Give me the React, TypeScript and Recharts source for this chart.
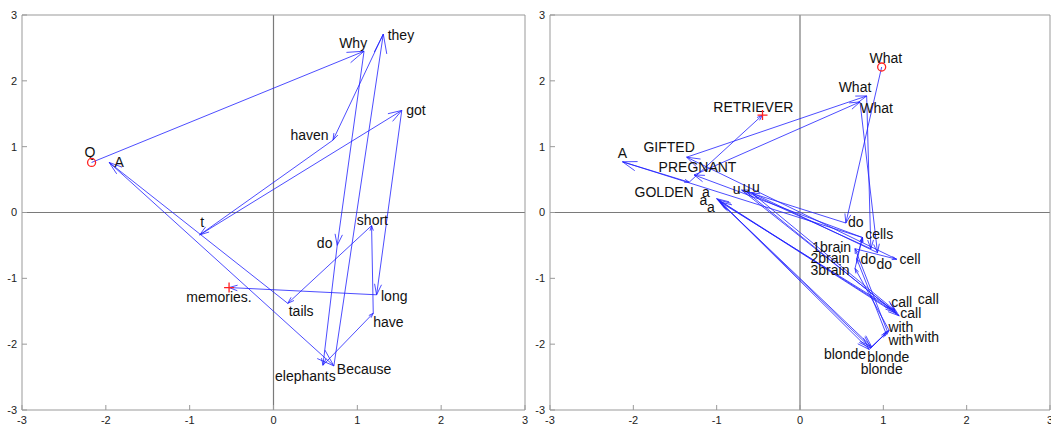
import React from 'react'
import { ComposedChart, XAxis, YAxis, Scatter, ReferenceLine } from 'recharts'

const TICKS = [-3, -2, -1, 0, 1, 2, 3]

// left panel: "Q Why do elephants have short tails A Because they haven t got long memories."
const LEFT_WORDS = ['Q', 'Why', 'do', 'elephants', 'have', 'short', 'tails', 'A', 'Because', 'they', 'haven', 't', 'got', 'long', 'memories.']
const LEFT_X = [-2.17, 1.08, 0.76, 0.59, 1.19, 1.17, 0.17, -1.96, 0.72, 1.31, 0.71, -0.88, 1.53, 1.23, -0.53]
const LEFT_Y = [0.76, 2.45, -0.5, -2.32, -1.53, -0.2, -1.38, 0.76, -2.33, 2.71, 1.1, -0.34, 1.55, -1.25, -1.14]
const LEFT_LABEL_X = [-2.19, 0.95, 0.61, 0.38, 1.37, 1.18, 0.33, -1.84, 1.08, 1.52, 0.43, -0.85, 1.7, 1.44, -0.65]
const LEFT_LABEL_Y = [0.92, 2.57, -0.47, -2.49, -1.67, -0.11, -1.49, 0.77, -2.37, 2.7, 1.17, -0.14, 1.56, -1.27, -1.29]

// right panel: three "What do u call a blonde with N brain cell(s)" questions and their answers
const RIGHT_WORDS = [
  'What', 'do', 'u', 'call', 'a', 'blonde', 'with', '1brain', 'cell', 'GIFTED',
  'What', 'do', 'u', 'call', 'a', 'blonde', 'with', '2brain', 'cells', 'PREGNANT',
  'What', 'do', 'u', 'call', 'a', 'blonde', 'with', '3brain', 'cells', 'A', 'GOLDEN', 'RETRIEVER',
]
const RIGHT_X = [
  0.98, 0.55, -0.7, 1.16, -1.0, 0.85, 1.05, 0.66, 1.16, -1.36,
  0.8, 0.85, -0.64, 1.19, -0.98, 0.83, 1.03, 0.68, 0.75, -1.27,
  0.72, 0.93, -0.58, 1.14, -0.96, 0.86, 1.07, 0.66, 0.75, -2.13, -1.33, -0.45,
]
const RIGHT_Y = [
  2.21, -0.16, 0.34, -1.53, 0.21, -2.06, -1.81, -0.55, -0.71, 0.84,
  1.77, -0.55, 0.31, -1.57, 0.19, -2.08, -1.83, -0.7, -0.38, 0.57,
  1.68, -0.61, 0.3, -1.49, 0.16, -2.04, -1.79, -0.85, -0.38, 0.77, 0.46, 1.48,
]
const RIGHT_LABEL_X = [
  1.03, 0.67, -0.76, 1.22, -1.13, 0.54, 1.21, 0.38, 1.32, -1.57,
  0.66, 0.82, -0.64, 1.54, -1.16, 1.06, 1.52, 0.36, 0.95, -1.23,
  0.92, 1.01, -0.53, 1.33, -1.07, 0.98, 1.21, 0.36, 0.95, -2.13, -1.63, -0.56,
]
const RIGHT_LABEL_Y = [
  2.35, -0.14, 0.36, -1.36, 0.31, -2.15, -1.74, -0.52, -0.7, 1.0,
  1.9, -0.7, 0.39, -1.32, 0.19, -2.2, -1.89, -0.69, -0.32, 0.69,
  1.59, -0.78, 0.39, -1.52, 0.09, -2.37, -1.94, -0.87, -0.32, 0.9, 0.31, 1.6,
]

const FONT = '"Liberation Sans", Arial, Helvetica, sans-serif'

function Arrow(props: any) {
  const { x1, y1, x2, y2 } = props
  const dx = x2 - x1
  const dy = y2 - y1
  const len = Math.hypot(dx, dy)
  const head = Math.max(5, len * 0.06)
  const a = Math.atan2(dy, dx)
  const w = 0.32
  const ax = x2 - head * Math.cos(a - w)
  const ay = y2 - head * Math.sin(a - w)
  const bx = x2 - head * Math.cos(a + w)
  const by = y2 - head * Math.sin(a + w)
  return (
    <path
      d={`M${x1},${y1}L${x2},${y2}M${ax},${ay}L${x2},${y2}L${bx},${by}`}
      stroke="#2020ff"
      strokeWidth={0.8}
      fill="none"
    />
  )
}

function WordLabel(props: any) {
  const { cx, cy, payload } = props
  return (
    <text x={cx} y={cy} textAnchor="middle" dominantBaseline="central" fontSize={14} fill="#111" fontFamily={FONT}>
      {payload.word}
    </text>
  )
}

function StartMark(props: any) {
  return <circle cx={props.cx} cy={props.cy} r={4} stroke="#ff2020" strokeWidth={1.3} fill="none" />
}

function EndMark(props: any) {
  const { cx, cy } = props
  return <path d={`M${cx - 5},${cy}H${cx + 5}M${cx},${cy - 5}V${cy + 5}`} stroke="#ff2020" strokeWidth={1.3} />
}

function Panel({ words, xs, ys, lx, ly, width, right }: {
  words: string[]; xs: number[]; ys: number[]; lx: number[]; ly: number[]; width: number; right: number
}) {
  // words that repeat at the same spot are written once
  const seen = new Set<string>()
  const labels = words
    .map((w, i) => ({ x: lx[i], y: ly[i], word: w }))
    .filter(l => {
      const k = `${l.word}@${l.x},${l.y}`
      if (seen.has(k)) return false
      seen.add(k)
      return true
    })
  const n = xs.length
  const start = [{ x: xs[0], y: ys[0] }]
  const end = [{ x: xs[n - 1], y: ys[n - 1] }]
  const axisColor = '#999'
  const tickStyle = { fill: '#222', fontSize: 11 }
  return (
    <ComposedChart width={width} height={427} margin={{ top: 14, right, bottom: 0, left: 0 }}>
      <XAxis
        dataKey="x" type="number" domain={[-3, 3]} ticks={TICKS} interval={0} allowDataOverflow
        height={17} tickSize={-5} tickMargin={11} stroke={axisColor} tick={tickStyle}
      />
      <XAxis
        xAxisId="top" orientation="top" type="number" domain={[-3, 3]} ticks={TICKS} interval={0}
        height={1} tickSize={-5} tick={false} stroke={axisColor}
      />
      <YAxis
        dataKey="y" type="number" domain={[-3, 3]} ticks={TICKS} interval={0} allowDataOverflow
        width={22} tickSize={-5} tickMargin={10} stroke={axisColor} tick={tickStyle}
      />
      <YAxis
        yAxisId="right" orientation="right" type="number" domain={[-3, 3]} ticks={TICKS} interval={0}
        width={1} tickSize={-5} tick={false} stroke={axisColor}
      />
      <ReferenceLine x={0} stroke="#7a7a7a" strokeWidth={1.2} />
      <ReferenceLine y={0} stroke="#7a7a7a" strokeWidth={1.2} />
      {xs.slice(1).map((_, i) => (
        <ReferenceLine
          key={i}
          segment={[{ x: xs[i], y: ys[i] }, { x: xs[i + 1], y: ys[i + 1] }]}
          shape={Arrow}
        />
      ))}
      <Scatter data={labels} dataKey="y" shape={WordLabel} isAnimationActive={false} />
      <Scatter data={start} dataKey="y" shape={StartMark} isAnimationActive={false} />
      <Scatter data={end} dataKey="y" shape={EndMark} isAnimationActive={false} />
    </ComposedChart>
  )
}

export default function App() {
  return (
    <div style={{ position: 'absolute', left: 0, top: 0, width: 1051, height: 427, background: '#fff', fontFamily: FONT }}>
      <div style={{ position: 'absolute', left: 0, top: 0 }}>
        <Panel words={LEFT_WORDS} xs={LEFT_X} ys={LEFT_Y} lx={LEFT_LABEL_X} ly={LEFT_LABEL_Y} width={530} right={4} />
      </div>
      <div style={{ position: 'absolute', left: 528, top: 0 }}>
        <Panel words={RIGHT_WORDS} xs={RIGHT_X} ys={RIGHT_Y} lx={RIGHT_LABEL_X} ly={RIGHT_LABEL_Y} width={523} right={0} />
      </div>
    </div>
  )
}
